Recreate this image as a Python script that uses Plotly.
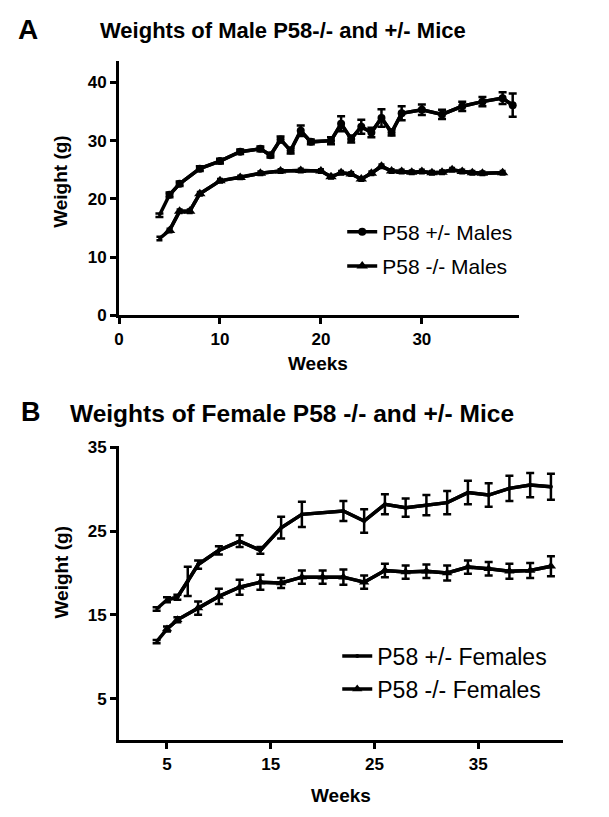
import plotly.graph_objects as go

# ---------------- Data ----------------
# Panel A: males
male_het_weeks = [4, 5, 6, 8, 10, 12, 14, 15, 16, 17, 18, 19, 21, 22, 23, 24, 25, 26, 27, 28, 30, 32, 34, 36, 38, 39]
male_het_weight = [17.2, 20.7, 22.6, 25.2, 26.5, 28.1, 28.6, 27.5, 30.2, 28.3, 31.7, 29.8, 30.0, 32.9, 30.3, 32.4,
                   31.4, 33.9, 31.4, 34.7, 35.3, 34.5, 35.9, 36.7, 37.3, 36.1]
male_het_err = [0.3, 0.4, 0.4, 0.4, 0.4, 0.4, 0.4, 0.4, 0.5, 0.5, 0.9, 0.4, 0.6, 1.3, 0.6, 1.2,
                0.8, 1.5, 0.5, 1.2, 0.9, 0.8, 0.8, 0.8, 1.0, 2.0]

male_ko_weeks = [4, 5, 6, 7, 8, 10, 12, 14, 16, 18, 20, 21, 22, 23, 24, 25, 26, 27, 28, 29, 30, 31, 32, 33, 34, 35, 36, 38]
male_ko_weight = [13.2, 14.6, 17.9, 17.9, 20.9, 23.1, 23.7, 24.4, 24.8, 24.9, 24.8, 23.8, 24.5, 24.3, 23.4, 24.4,
                  25.6, 24.8, 24.7, 24.6, 24.7, 24.5, 24.6, 25.0, 24.7, 24.5, 24.4, 24.5]
male_ko_err = [0.3] * len(male_ko_weeks)

# Panel B: females
fem_het_weeks = [4, 5, 6, 7, 8, 10, 12, 14, 16, 18, 22, 24, 26, 28, 30, 32, 34, 36, 38, 40, 42]
fem_het_weight = [15.7, 16.8, 17.1, 19.0, 21.0, 22.7, 23.8, 22.7, 25.4, 27.0, 27.4, 26.2, 28.2, 27.8, 28.1, 28.4,
                  29.6, 29.3, 30.1, 30.5, 30.3]
fem_het_err = [0.2, 0.3, 0.3, 1.75, 0.5, 0.5, 0.7, 0.4, 1.3, 1.5, 1.2, 1.4, 1.2, 1.1, 1.2, 1.4, 1.4, 1.4, 1.5, 1.45, 1.55]

fem_ko_weeks = [4, 5, 6, 8, 10, 12, 14, 16, 18, 20, 22, 24, 26, 28, 30, 32, 34, 36, 38, 40, 42]
fem_ko_weight = [11.8, 13.3, 14.4, 15.8, 17.2, 18.3, 18.9, 18.8, 19.5, 19.5, 19.5, 18.9, 20.3, 20.1, 20.2, 20.0,
                 20.7, 20.5, 20.2, 20.3, 20.8]
fem_ko_err = [0.2, 0.3, 0.3, 0.8, 0.9, 0.9, 0.9, 0.6, 0.8, 0.8, 0.9, 0.8, 0.8, 0.8, 0.8, 0.9, 0.8, 0.8, 0.9, 0.9, 1.2]

a_xticks = [0, 10, 20, 30]
a_yticks = [0, 10, 20, 30, 40]
b_xticks = [5, 15, 25, 35]
b_yticks = [5, 15, 25, 35]

# ---------------- Figure ----------------
W, H = 609, 817
FONT = "Liberation Sans, Arial, Helvetica, sans-serif"


def px(x):
    return x / W


def py(y):
    return 1 - y / H


fig = go.Figure()


def add_series(weeks, weight, errs, name, group, symbol, msize, capw, xa, ya, leg):
    # full curve with error bars (first time point is a bare line end, as in the original)
    fig.add_trace(go.Scatter(
        x=weeks, y=weight,
        error_y=dict(type="data", array=errs, visible=True, color="black", thickness=2.5, width=capw),
        mode="lines", line=dict(color="black", width=3.5),
        showlegend=False, legendgroup=group, hoverinfo="skip",
        xaxis=xa, yaxis=ya, legend=leg))
    # symbols from the second time point on
    fig.add_trace(go.Scatter(
        x=weeks[1:], y=weight[1:],
        mode="lines+markers", name=name, legendgroup=group,
        line=dict(color="black", width=3.5),
        marker=dict(symbol=symbol, size=msize, color="black"),
        xaxis=xa, yaxis=ya, legend=leg))


add_series(male_het_weeks, male_het_weight, male_het_err, "P58 +/- Males", "a1", "circle", 8, 4, "x", "y", "legend")
add_series(male_ko_weeks, male_ko_weight, male_ko_err, "P58 -/- Males", "a2", "triangle-up", 10, 3, "x", "y", "legend")
add_series(fem_het_weeks, fem_het_weight, fem_het_err, "P58 +/- Females", "b1", "circle", 4, 4, "x2", "y2", "legend2")
add_series(fem_ko_weeks, fem_ko_weight, fem_ko_err, "P58 -/- Females", "b2", "triangle-up", 9, 4, "x2", "y2", "legend2")

axis_common = dict(showline=True, linewidth=3, linecolor="black", ticks="outside", ticklen=6,
                   tickwidth=2.5, tickcolor="black", showgrid=False, zeroline=False,
                   tickfont=dict(family=FONT, size=17, color="black", weight="bold"))

fig.update_layout(
    width=W, height=H,
    margin=dict(l=0, r=0, t=0, b=0),
    paper_bgcolor="white", plot_bgcolor="white",
    showlegend=True,
    xaxis=dict(domain=[px(115), px(518)], range=[0, 39.6], tickvals=a_xticks,
               anchor="y", **axis_common),
    yaxis=dict(domain=[py(315), py(55)], range=[0, 43.7], tickvals=a_yticks,
               anchor="x", **axis_common),
    xaxis2=dict(domain=[px(115), px(563)], range=[0.38, 43.2], tickvals=b_xticks,
                anchor="y2", **axis_common),
    yaxis2=dict(domain=[py(749), py(448)], range=[0, 35.2], tickvals=b_yticks,
                anchor="x2", **axis_common),
    legend=dict(x=px(340), y=py(209), xanchor="left", yanchor="top",
                font=dict(family=FONT, size=21, color="black"),
                traceorder="grouped", tracegroupgap=4, itemwidth=30,
                bgcolor="rgba(0,0,0,0)"),
    legend2=dict(x=px(335), y=py(641), xanchor="left", yanchor="top",
                 font=dict(family=FONT, size=23, color="black"),
                 traceorder="grouped", tracegroupgap=0, itemwidth=30,
                 bgcolor="rgba(0,0,0,0)"),
)

annos = [
    dict(text="A", x=px(11), y=py(23), size=28),
    dict(text="Weights of Male P58-/- and +/- Mice", x=px(94), y=py(24), size=22),
    dict(text="B", x=px(14), y=py(414), size=27),
    dict(text="Weights of Female P58 -/- and +/- Mice", x=px(64), y=py(415), size=24.5),
]
for a in annos:
    fig.add_annotation(text=a["text"], x=a["x"], y=a["y"], xref="paper", yref="paper",
                       xanchor="left", yanchor="middle", showarrow=False,
                       font=dict(family=FONT, size=a["size"], color="black", weight="bold"))

# axis titles
titles = [
    dict(text="Weeks", x=px(316), y=py(364), angle=0),
    dict(text="Weight (g)", x=px(56), y=py(178), angle=-90),
    dict(text="Weeks", x=px(339), y=py(805), angle=0),
    dict(text="Weight (g)", x=px(57), y=py(577), angle=-90),
]
for t in titles:
    fig.add_annotation(text=t["text"], x=t["x"], y=t["y"], xref="paper", yref="paper",
                       xanchor="center", yanchor="middle", showarrow=False, textangle=t["angle"],
                       font=dict(family=FONT, size=19, color="black", weight="bold"))

fig.write_html("out.html", config={"displayModeBar": False},
               post_script="document.body.style.margin='0';document.body.style.overflow='hidden';")
